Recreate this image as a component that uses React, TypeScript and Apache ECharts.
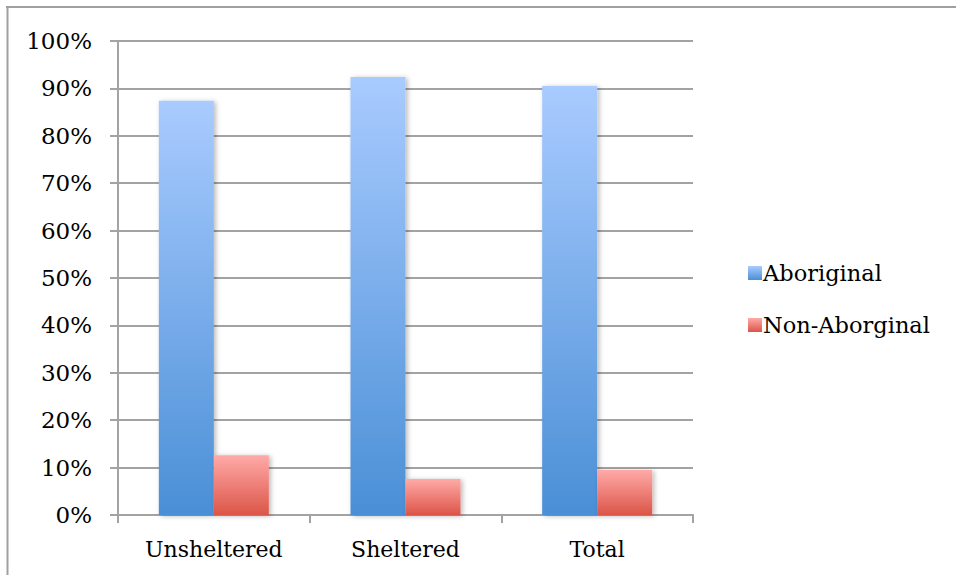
import React, { useEffect, useRef } from "react";
import * as echarts from "echarts";

const categories = ["Unsheltered", "Sheltered", "Total"];
const aboriginal = [87.4, 92.4, 90.5];
const nonAboriginal = [12.6, 7.6, 9.5];
const seriesNames = ["Aboriginal", "Non-Aborginal"];

const FONT = "DejaVu Serif";
const GRID = "#a3a3a3";

function vGrad(top: string, bottom: string) {
  return new echarts.graphic.LinearGradient(0, 0, 0, 1, [
    { offset: 0, color: top },
    { offset: 1, color: bottom },
  ]);
}

export default function App() {
  const ref = useRef<HTMLDivElement>(null);

  useEffect(() => {
    if (!ref.current) return;
    const chart = echarts.init(ref.current, null, { renderer: "svg" });
    const shadow = {
      shadowColor: "rgba(0,0,0,0.28)",
      shadowBlur: 5,
      shadowOffsetX: 2,
      shadowOffsetY: 1,
    };
    chart.setOption({
      animation: false,
      backgroundColor: "#ffffff",
      grid: { left: 118, right: 263, top: 41, bottom: 60 },
      legend: {
        orient: "vertical",
        left: 743,
        top: 256,
        itemWidth: 14,
        itemHeight: 14,
        itemGap: 28,
        icon: "rect",
        textStyle: { fontFamily: FONT, fontSize: 22.5, color: "#000", lineHeight: 24, padding: [0, 0, 0, -4] },
        data: seriesNames,
      },
      xAxis: {
        type: "category",
        data: categories,
        axisLine: { lineStyle: { color: GRID, width: 2 } },
        axisTick: { show: true, length: 8, lineStyle: { color: GRID, width: 2 } },
        axisLabel: { fontFamily: FONT, fontSize: 22, color: "#000", margin: 23 },
      },
      yAxis: {
        type: "value",
        min: 0,
        max: 100,
        interval: 10,
        axisLine: { show: true, lineStyle: { color: GRID, width: 2 } },
        axisTick: { show: true, length: 8, lineStyle: { color: GRID, width: 2 } },
        splitLine: { show: true, lineStyle: { color: GRID, width: 2 } },
        axisLabel: {
          fontFamily: FONT,
          fontSize: 23,
          color: "#000",
          margin: 26,
          formatter: (v: number) => `${v}%`,
        },
      },
      series: [
        {
          name: seriesNames[0],
          type: "bar",
          data: aboriginal,
          barWidth: 55,
          barGap: "0%",
          itemStyle: { color: vGrad("#a9cbff", "#4a8fd6"), ...shadow },
        },
        {
          name: seriesNames[1],
          type: "bar",
          data: nonAboriginal,
          barWidth: 55,
          barGap: "0%",
          itemStyle: { color: vGrad("#ffaaa8", "#dc5548"), ...shadow },
        },
      ],
      graphic: [
        {
          type: "line",
          shape: { x1: 6, y1: 7, x2: 956, y2: 7 },
          style: { stroke: "#a0a0a0", lineWidth: 2 },
        },
        {
          type: "line",
          shape: { x1: 7.5, y1: 6, x2: 7.5, y2: 575 },
          style: { stroke: "#a0a0a0", lineWidth: 2 },
        },
      ],
    });
    return () => chart.dispose();
  }, []);

  return (
    <div
      ref={ref}
      style={{ position: "fixed", left: 0, top: 0, width: 956, height: 575 }}
    />
  );
}
